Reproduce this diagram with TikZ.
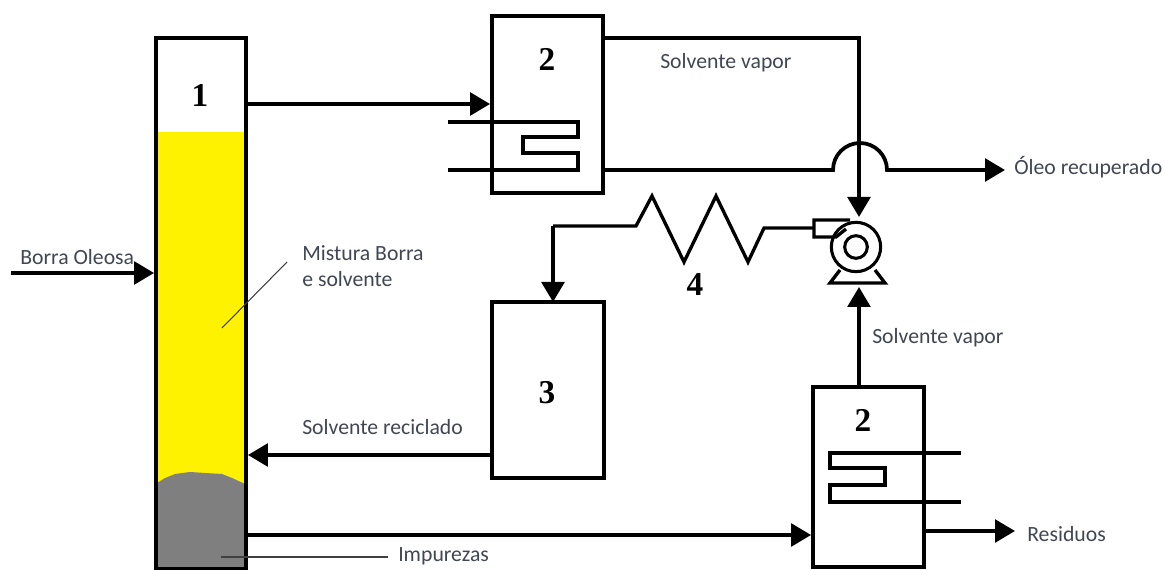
\documentclass[tikz,border=0pt]{standalone}
\usepackage{fontspec}
\setmainfont{Carlito}
\newfontfamily\numfont{Liberation Serif}
\usetikzlibrary{arrows.meta,calc,positioning}
\definecolor{labelgray}{HTML}{404652}
\definecolor{mixyellow}{HTML}{FFF200}
\definecolor{sludgegray}{HTML}{7F7F7F}

\begin{document}
\begin{tikzpicture}[x=.75pt,y=-.75pt,>={Triangle[length=15pt,width=17pt]},
 vessel/.style={draw,line width=2.9pt,inner sep=0pt},
 flow/.style={->,line width=2.8pt},
 pipe/.style={line width=2.5pt},
 coil/.style={line width=2.5pt,line join=miter},
 leader/.style={black!75,line width=.8pt},
 num/.style={font=\numfont\bfseries\fontsize{25}{25}\selectfont,inner sep=0pt},
 lab/.style={font=\fontsize{16.3}{16.3}\selectfont,text=labelgray,anchor=west,inner sep=0pt}]
\useasboundingbox (0,0) rectangle (1165,570);
% column contents
\fill[mixyellow] (157,132) rectangle (245,492);
\fill[sludgegray] (157,483) -- (165,478) -- (175,474) -- (190,472) -- (205,473) -- (222,474)
 -- (232,478) -- (245,484) -- (245,569) -- (157,569) -- cycle;
% vessels
\node[vessel,minimum width=67.5pt,minimum height=398pt] (col) at (201,303.5) {};
\node[vessel,minimum width=83.25pt,minimum height=132.75pt] (condA) at (547.5,104.5) {};
\node[vessel,minimum width=84pt,minimum height=132pt] (tank) at (548,390) {};
\node[vessel,minimum width=83.25pt,minimum height=135pt] (condB) at (868.5,477) {};
\node[num] (n1) at (200,96) {1};
\node[num] (n2a) at (547,59) {2};
\node[num] (n3) at (547,393) {3};
\node[num] (n2b) at (863,420) {2};
\node[num] (n4) at (695,285) {4};
% pump
\node[circle,draw,line width=2.3pt,minimum size=37pt,inner sep=0pt] (pump) at (856,247) {};
\node[circle,draw,line width=2.3pt,minimum size=17pt,inner sep=0pt] (rotor) at (pump) {};
\draw[coil] (850,220) -- (814,220) -- (814,237) -- (836,237) -- (846,229);
\draw[coil] (840,270) -- (830,283) -- (885,283) -- (875,270);
% levels of the lines
\coordinate (feed) at (11,273);
\coordinate (top) at (0,104);
\coordinate (vap) at (859,38);
\coordinate (vapin) at (859,217);
\coordinate (vapup) at (859,287);
\coordinate (rec) at (0,455);
\coordinate (bot) at (0,535);
\coordinate (res) at (1015,531);
\coordinate (oil) at (1005,170);
\coordinate (noz) at (814,228);
\coordinate (tankin) at (553,302);
% lines
\draw[flow] (feed) -- (feed -| col.west);
\draw[flow] (top -| col.east) -- (top -| condA.west);
\draw[flow] (vap -| condA.east) -- (vap) -- (vapin);
\draw[flow] (oil -| condA.east) -- (833,170) arc[start angle=180,end angle=360,radius=27] -- (oil);
\draw[flow] (rec -| tank.west) -- (rec -| col.east);
\draw[flow] (bot -| col.east) -- (bot -| condB.west);
\draw[flow] (res -| condB.east) -- (res);
\draw[flow] (vapup |- condB.north) -- (vapup);
\draw[flow,line join=miter] (tankin |- 0,226) -- (tankin);
\draw[pipe] (noz) -- (764,228) -- (748,262) -- (716,196) -- (684,262) -- (652,196) -- (636,226) -- (553,226);
% coils
\draw[coil] (448,122) -- (578,122) -- (578,137) -- (523,137) -- (523,153) -- (578,153) -- (578,170) -- (448,170);
\draw[coil] (961,453) -- (830,453) -- (830,468) -- (885,468) -- (885,485) -- (830,485) -- (830,502) -- (961,502);
% texts
\node[lab] (tfeed) at (20,257) {Borra Oleosa};
\node[lab] (tmix1) at (302,253) {Mistura Borra};
\node[lab] (tmix2) at (302,279) {e solvente};
\node[lab] (tvapa) at (660,63) {Solvente vapor};
\node[lab] (tvapb) at (872,338) {Solvente vapor};
\node[lab] (toil) at (1014,167) {Óleo recuperado};
\node[lab] (trec) at (302,427) {Solvente reciclado};
\node[lab] (timp) at (398,556) {Impurezas};
\node[lab] (tres) at (1027,534) {Residuos};
% leaders
\coordinate (mixa) at (222,328);
\coordinate (mixb) at (287,262);
\coordinate (impa) at (221,557);
\draw[leader] (mixa) -- (mixb);
\draw[leader] (impa) -- (388,557);
\end{tikzpicture}
\end{document}
